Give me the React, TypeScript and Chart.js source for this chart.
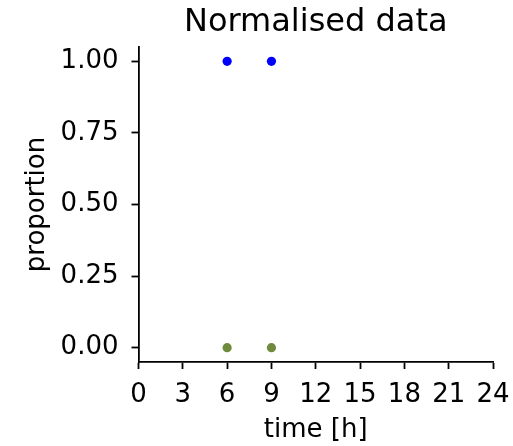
import React, { useEffect, useRef } from "react";
import { Chart, registerables } from "chart.js";

Chart.register(...registerables);

// ---- data ----
const times: number[] = [6, 9];
const blueSeries: number[] = [1, 1];
const greenSeries: number[] = [0, 0];
const xTickValues: number[] = [0, 3, 6, 9, 12, 15, 18, 21, 24];
const yTickValues: number[] = [0, 0.25, 0.5, 0.75, 1.0];
const titleText = "Normalised data";
const xLabel = "time [h]";
const yLabel = "proportion";

const FONT = "'DejaVu Sans', sans-serif";

export default function App() {
  const ref = useRef<HTMLCanvasElement | null>(null);

  useEffect(() => {
    if (!ref.current) return;
    const chart = new Chart(ref.current, {
      type: "scatter",
      data: {
        datasets: [
          {
            label: "a",
            data: times.map((t, i) => ({ x: t, y: blueSeries[i] })),
            backgroundColor: "#0000ff",
            borderWidth: 0,
            pointRadius: 4.6,
          },
          {
            label: "b",
            data: times.map((t, i) => ({ x: t, y: greenSeries[i] })),
            backgroundColor: "#6e8b3d",
            borderWidth: 0,
            pointRadius: 4.6,
          },
        ],
      },
      options: {
        responsive: false,
        animation: false,
        layout: { padding: { left: 0, right: 20, top: 3.5, bottom: 0 } },
        plugins: {
          legend: { display: false },
          tooltip: { enabled: false },
          title: {
            display: true,
            text: titleText,
            fullSize: false,
            color: "#000",
            font: { family: FONT, size: 32, weight: "normal" },
            padding: { top: 0, bottom: 5.1 },
          },
        },
        scales: {
          x: {
            type: "linear",
            min: 0,
            max: 24,
            afterFit: (s: any) => {
              s.height = 84;
              s.paddingLeft = 0;
              s.paddingRight = 0;
            },
            afterBuildTicks: (s: any) => {
              s.ticks = xTickValues.map((v) => ({ value: v }));
            },
            grid: {
              drawOnChartArea: false,
              drawTicks: true,
              tickLength: 7,
              tickColor: "#000",
              tickWidth: 1.8,
            },
            border: { display: true, color: "#000", width: 1.8 },
            ticks: {
              color: "#000",
              font: { family: FONT, size: 26 },
              padding: 11,
              maxRotation: 0,
              autoSkip: false,
              callback: (v: any) => String(v),
            },
            title: {
              display: true,
              text: xLabel,
              color: "#000",
              font: { family: FONT, size: 26 },
              padding: { top: 0, bottom: 0 },
            },
          },
          y: {
            type: "linear",
            min: -0.05,
            max: 1.05,
            afterFit: (s: any) => {
              s.width = 138.5;
              s.paddingTop = 0;
              s.paddingBottom = 0;
            },
            afterBuildTicks: (s: any) => {
              s.ticks = yTickValues.map((v) => ({ value: v }));
            },
            grid: {
              drawOnChartArea: false,
              drawTicks: true,
              tickLength: 7,
              tickColor: "#000",
              tickWidth: 1.8,
            },
            border: { display: true, color: "#000", width: 1.8 },
            ticks: {
              color: "#000",
              font: { family: FONT, size: 26 },
              padding: 13,
              autoSkip: false,
              callback: (v: any) => Number(v).toFixed(2),
            },
            title: {
              display: true,
              text: yLabel,
              color: "#000",
              font: { family: FONT, size: 26 },
              padding: { top: 22, bottom: 0 },
            },
          },
        },
      },
    });
    return () => chart.destroy();
  }, []);

  return (
    <div style={{ position: "fixed", left: 0, top: 0, width: 513, height: 446, background: "#fff" }}>
      <canvas ref={ref} width={513} height={446} style={{ display: "block" }} />
    </div>
  );
}
